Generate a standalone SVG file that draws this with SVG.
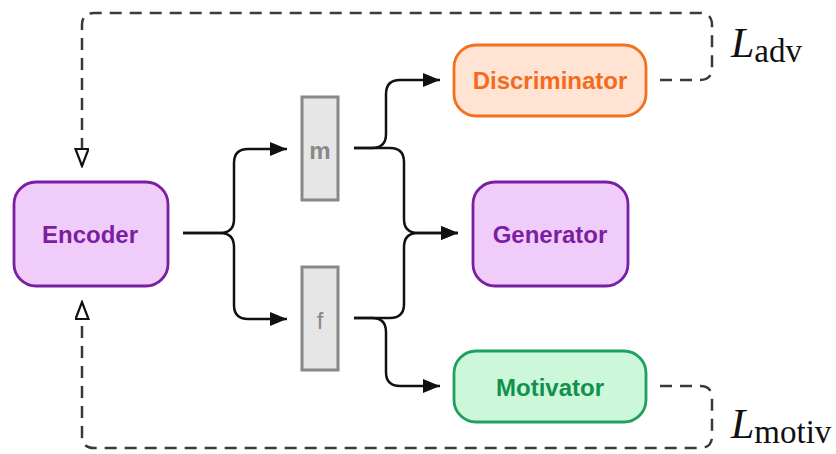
<svg xmlns="http://www.w3.org/2000/svg" width="836" height="454" viewBox="0 0 836 454">
<style>
.box{stroke-width:2.8}
.lbl{font-family:"Liberation Sans",Arial,sans-serif;font-weight:bold;font-size:24px;text-anchor:middle}
.flow{fill:none;stroke:#111;stroke-width:2.5}
.loss{fill:none;stroke:#3a3a3a;stroke-width:2.5;stroke-dasharray:12 8}
.math{font-family:"Liberation Serif","Times New Roman",serif;fill:#111}
</style>
<defs>
<marker id="ah" markerUnits="userSpaceOnUse" markerWidth="17" markerHeight="14" refX="17" refY="7" orient="auto">
<path d="M0,0 L17,7 L0,14 z" fill="#111"/>
</marker>
<marker id="oh" markerUnits="userSpaceOnUse" markerWidth="20" markerHeight="16" refX="18" refY="7" orient="auto">
<path d="M1,0.5 L18,7 L1,13.5 z" fill="#fff" stroke="#111" stroke-width="2.2"/>
</marker>
</defs>
<g id="connectors">
<path class="flow" d="M183,233 H220 Q234,233 234,219 V163 Q234,149 248,149 H287" marker-end="url(#ah)"/>
<path class="flow" d="M183,233 H220 Q234,233 234,247 V305 Q234,319 248,319 H287" marker-end="url(#ah)"/>
<path class="flow" d="M354,148 H372 Q386,148 386,134 V94 Q386,80 400,80 H440" marker-end="url(#ah)"/>
<path class="flow" d="M354,148 H390 Q404,148 404,162 V219 Q404,233 418,233 H458" marker-end="url(#ah)"/>
<path class="flow" d="M354,318 H390 Q404,318 404,304 V247 Q404,233 418,233 H458" marker-end="url(#ah)"/>
<path class="flow" d="M354,318 H372 Q386,318 386,332 V372 Q386,386 400,386 H440" marker-end="url(#ah)"/>
<path class="loss" d="M660,80 H700 Q712,80 712,68 V25 Q712,13 700,13 H94 Q82,13 82,25 V166" marker-end="url(#oh)"/>
<path class="loss" d="M660,386 H700 Q712,386 712,398 V436 Q712,448 700,448 H94 Q82,448 82,436 V302" marker-end="url(#oh)"/>
</g>
<g id="encoder">
<rect class="box" x="14" y="182" width="154" height="104" rx="22" fill="#f0ccfb" stroke="#7b1fa2"/>
<text class="lbl" x="90" y="243" fill="#7b1fa2">Encoder</text>
</g>
<g id="m">
<rect x="302" y="97" width="36" height="103" fill="#e6e6e6" stroke="#888" stroke-width="3"/>
<text class="lbl" x="320" y="159" fill="#888" font-size="20">m</text>
</g>
<g id="f">
<rect x="302" y="267" width="36" height="103" fill="#e6e6e6" stroke="#888" stroke-width="3"/>
<text class="lbl" x="320" y="329" fill="#888" style="font-weight:normal">f</text>
</g>
<g id="discriminator">
<rect class="box" x="454" y="45" width="192" height="71" rx="22" fill="#ffe3d3" stroke="#f37021"/>
<text class="lbl" x="550" y="89" fill="#f26b21">Discriminator</text>
</g>
<g id="generator">
<rect class="box" x="473" y="182" width="155" height="104" rx="22" fill="#f0ccfb" stroke="#7b1fa2"/>
<text class="lbl" x="550" y="243" fill="#7b1fa2">Generator</text>
</g>
<g id="motivator">
<rect class="box" x="454" y="351" width="192" height="71" rx="22" fill="#ccf7d8" stroke="#1fa060"/>
<text class="lbl" x="550" y="396" fill="#12904f">Motivator</text>
</g>
<g id="ladv">
<text class="math" x="731" y="57"><tspan font-style="italic" font-size="42">L</tspan><tspan font-size="33" dy="5">adv</tspan></text>
</g>
<g id="lmotiv">
<text class="math" x="731" y="438"><tspan font-style="italic" font-size="42">L</tspan><tspan font-size="33" dy="5">motiv</tspan></text>
</g>
</svg>
